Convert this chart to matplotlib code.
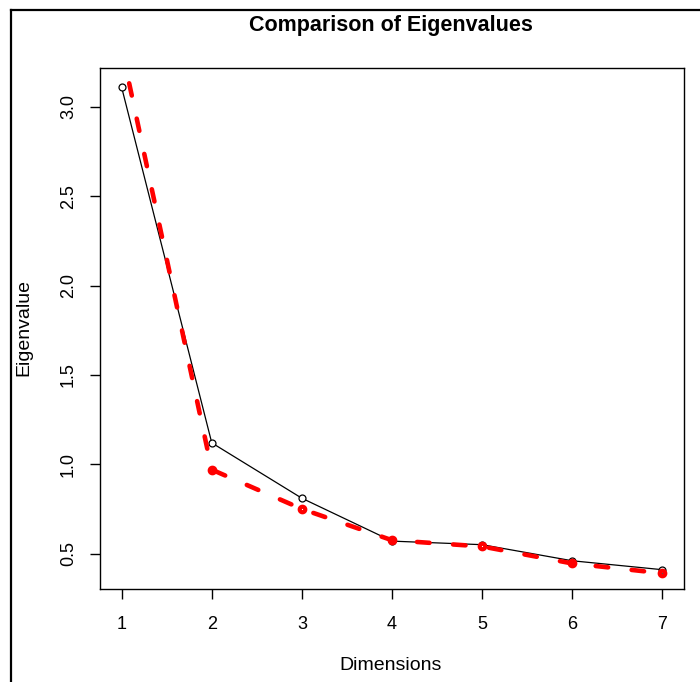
import numpy as np
import matplotlib.pyplot as plt
from matplotlib.lines import Line2D

plt.rcParams['font.family'] = ['Liberation Sans', 'DejaVu Sans']
plt.rcParams['lines.scale_dashes'] = False

dims = [1, 2, 3, 4, 5, 6, 7]
observed = [3.11, 1.12, 0.81, 0.57, 0.55, 0.46, 0.41]
simulated = [3.33, 0.97, 0.75, 0.575, 0.54, 0.445, 0.39]

W, H = 700, 682
fig = plt.figure(figsize=(W / 100, H / 100), dpi=100)
ax = fig.add_axes([100 / W, 1 - 589 / H, 584 / W, 521 / H])

ax.plot(dims, observed, color='black', lw=0.9, marker='o', ms=5,
        mfc='white', mec='black', mew=0.9, zorder=2)
red, = ax.plot(dims, simulated, color='red', lw=3.3, marker='o', ms=4,
               mfc='none', mec='red', mew=3, zorder=3,
               dash_capstyle='round')
red.set_dashes((9, 17))

# R style axis ranges (4% padding from the black series)
xpad = (max(dims) - min(dims)) * 0.04
ypad = (max(observed) - min(observed)) * 0.04
ax.set_xlim(min(dims) - xpad, max(dims) + xpad)
ax.set_ylim(min(observed) - ypad, max(observed) + ypad)

ax.set_xticks(dims)
ax.set_yticks([0.5, 1.0, 1.5, 2.0, 2.5, 3.0])
ax.set_yticklabels(['0.5', '1.0', '1.5', '2.0', '2.5', '3.0'], rotation=90, va='center')
ax.tick_params(axis='both', length=7.5, width=1, labelsize=13, colors='black')
ax.tick_params(axis='x', pad=12)
ax.tick_params(axis='y', pad=9)
for s in ax.spines.values():
    s.set_linewidth(1)

fig.text(391 / W, 1 - 25 / H, 'Comparison of Eigenvalues', ha='center', va='center',
         fontsize=15.5, fontweight='bold')
fig.text(391 / W, 1 - 666 / H, 'Dimensions', ha='center', va='center', fontsize=14)
fig.text(24 / W, 1 - 328 / H, 'Eigenvalue', ha='center', va='center', fontsize=14,
         rotation=90)

# frame lines of the screenshot
fig.add_artist(Line2D([11 / W, 11 / W], [0, 1 - 10 / H], color='black', lw=1.6,
                      transform=fig.transFigure))
fig.add_artist(Line2D([11 / W, 1], [1 - 10 / H, 1 - 10 / H], color='black', lw=1.6,
                      transform=fig.transFigure))

fig.savefig('out.png', dpi=100)
